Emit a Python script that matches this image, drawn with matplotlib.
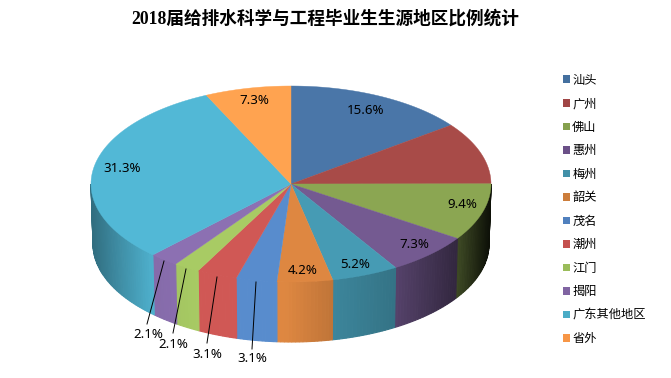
import numpy as np
import matplotlib
matplotlib.use('Agg')
import matplotlib.pyplot as plt
from matplotlib.patches import Patch

plt.rcParams['font.family'] = ['Noto Sans CJK SC', 'DejaVu Sans']

title = '2018届给排水科学与工程毕业生生源地区比例统计'
categories = ['汕头', '广州', '佛山', '惠州', '梅州', '韶关', '茂名', '潮州', '江门', '揭阳', '广东其他地区', '省外']
values = [15.6, 9.4, 9.4, 7.3, 5.2, 4.2, 3.1, 3.1, 2.1, 2.1, 31.3, 7.3]
top_colors = ['#4A76A8', '#A84B48', '#8BA652', '#745A91', '#469BB4', '#DE8741',
              '#588CCD', '#D05855', '#A8CB64', '#8C70B2', '#52B8D6', '#FFA350']
legend_colors = ['#44709F', '#A04545', '#85A04D', '#6B5088', '#4290A8', '#CC7D3B',
                 '#5080BE', '#C4504E', '#9ABC5A', '#8064A2', '#4BACC6', '#F79646']

# pie geometry in pixels
cx, cy = 291, 184
rx, ry = 200, 98
depth = 60
bottom_rx = 198

# the original is a 3D projection, so drawn angles drift a little from the true ones
warp_in = [0, 56, 90, 124, 150, 169, 184, 195, 206, 214, 221, 334, 360]
warp_out = [0, 53, 90, 124, 148.5, 168.3, 184.3, 196, 207.6, 215.6, 223.5, 335.2, 360]

# wall brightness along x
shade_x = [91, 120, 150, 200, 285, 330, 395, 460, 490]
shade_k = [0.60, 0.78, 0.95, 1.0, 1.0, 0.87, 0.74, 0.42, 0.10]

# text labels: (text, x, y)
labels = [('15.6%', 366, 110), ('9.4%', 462, 205), ('7.3%', 414, 245), ('5.2%', 355, 264),
          ('4.2%', 303, 271), ('31.3%', 122, 169), ('7.3%', 254, 101),
          ('2.1%', 148, 335), ('2.1%', 173, 344), ('3.1%', 207, 354), ('3.1%', 252, 359)]
leaders = [((164, 261), (147, 324)), ((186, 269), (173, 333)),
           ((217, 277), (207, 343)), ((256, 282), (252, 349))]


def ellipse(t, a, b, yc):
    # t is clockwise from 12 o'clock
    return cx + a * np.sin(t), yc - b * np.cos(t)


fig = plt.figure(figsize=(6.71, 3.78), dpi=100)
ax = fig.add_axes([0, 0, 1, 1])
ax.set_xlim(0, 671)
ax.set_ylim(378, 0)
ax.axis('off')

edges = np.cumsum([0] + values) / sum(values) * 360
edges = np.radians(np.interp(edges, warp_in, warp_out))

# walls first, as thin strips so the shading can change along the slice
for i, col in enumerate(top_colors):
    a0, a1 = max(edges[i], np.pi / 2), min(edges[i + 1], 3 * np.pi / 2)
    if a1 <= a0:
        continue
    ts = np.linspace(a0, a1, max(int((a1 - a0) * 60), 2))
    rgb = np.array(matplotlib.colors.to_rgb(col))
    for t0, t1 in zip(ts[:-1], ts[1:]):
        xt, yt = ellipse(np.array([t0, t1]), rx, ry, cy)
        xb, yb = ellipse(np.array([t1, t0]), bottom_rx, ry, cy + depth)
        k = np.interp(xt.mean(), shade_x, shade_k)
        ax.fill(np.r_[xt, xb], np.r_[yt, yb], color=rgb * k, lw=0.8, zorder=1)

# top face
for i, col in enumerate(top_colors):
    t = np.linspace(edges[i], edges[i + 1], 80)
    x, y = ellipse(t, rx, ry, cy)
    ax.fill(np.r_[cx, x], np.r_[cy, y], color=col, lw=0.3, zorder=2)

for p0, p1 in leaders:
    ax.plot([p0[0], p1[0]], [p0[1], p1[1]], color='black', lw=0.7, zorder=3)

for text, x, y in labels:
    ax.text(x, y, text, ha='center', va='center', fontsize=9.6, color='black', zorder=4,
            family='Noto Sans')

ax.text(325, 19, title, ha='center', va='center', fontsize=12.7, fontweight='bold', color='black',
        family=['Liberation Serif', 'Noto Sans CJK SC'])

handles = [Patch(facecolor=c, edgecolor='none') for c in legend_colors]
ax.legend(handles, categories, loc='center left', bbox_to_anchor=(563, 209.5),
          bbox_transform=ax.transData, frameon=False, fontsize=8.8, labelspacing=0.86,
          handlelength=0.6, handleheight=0.6, handletextpad=0.15, borderpad=0, borderaxespad=0)

fig.savefig('out.png', dpi=100)
